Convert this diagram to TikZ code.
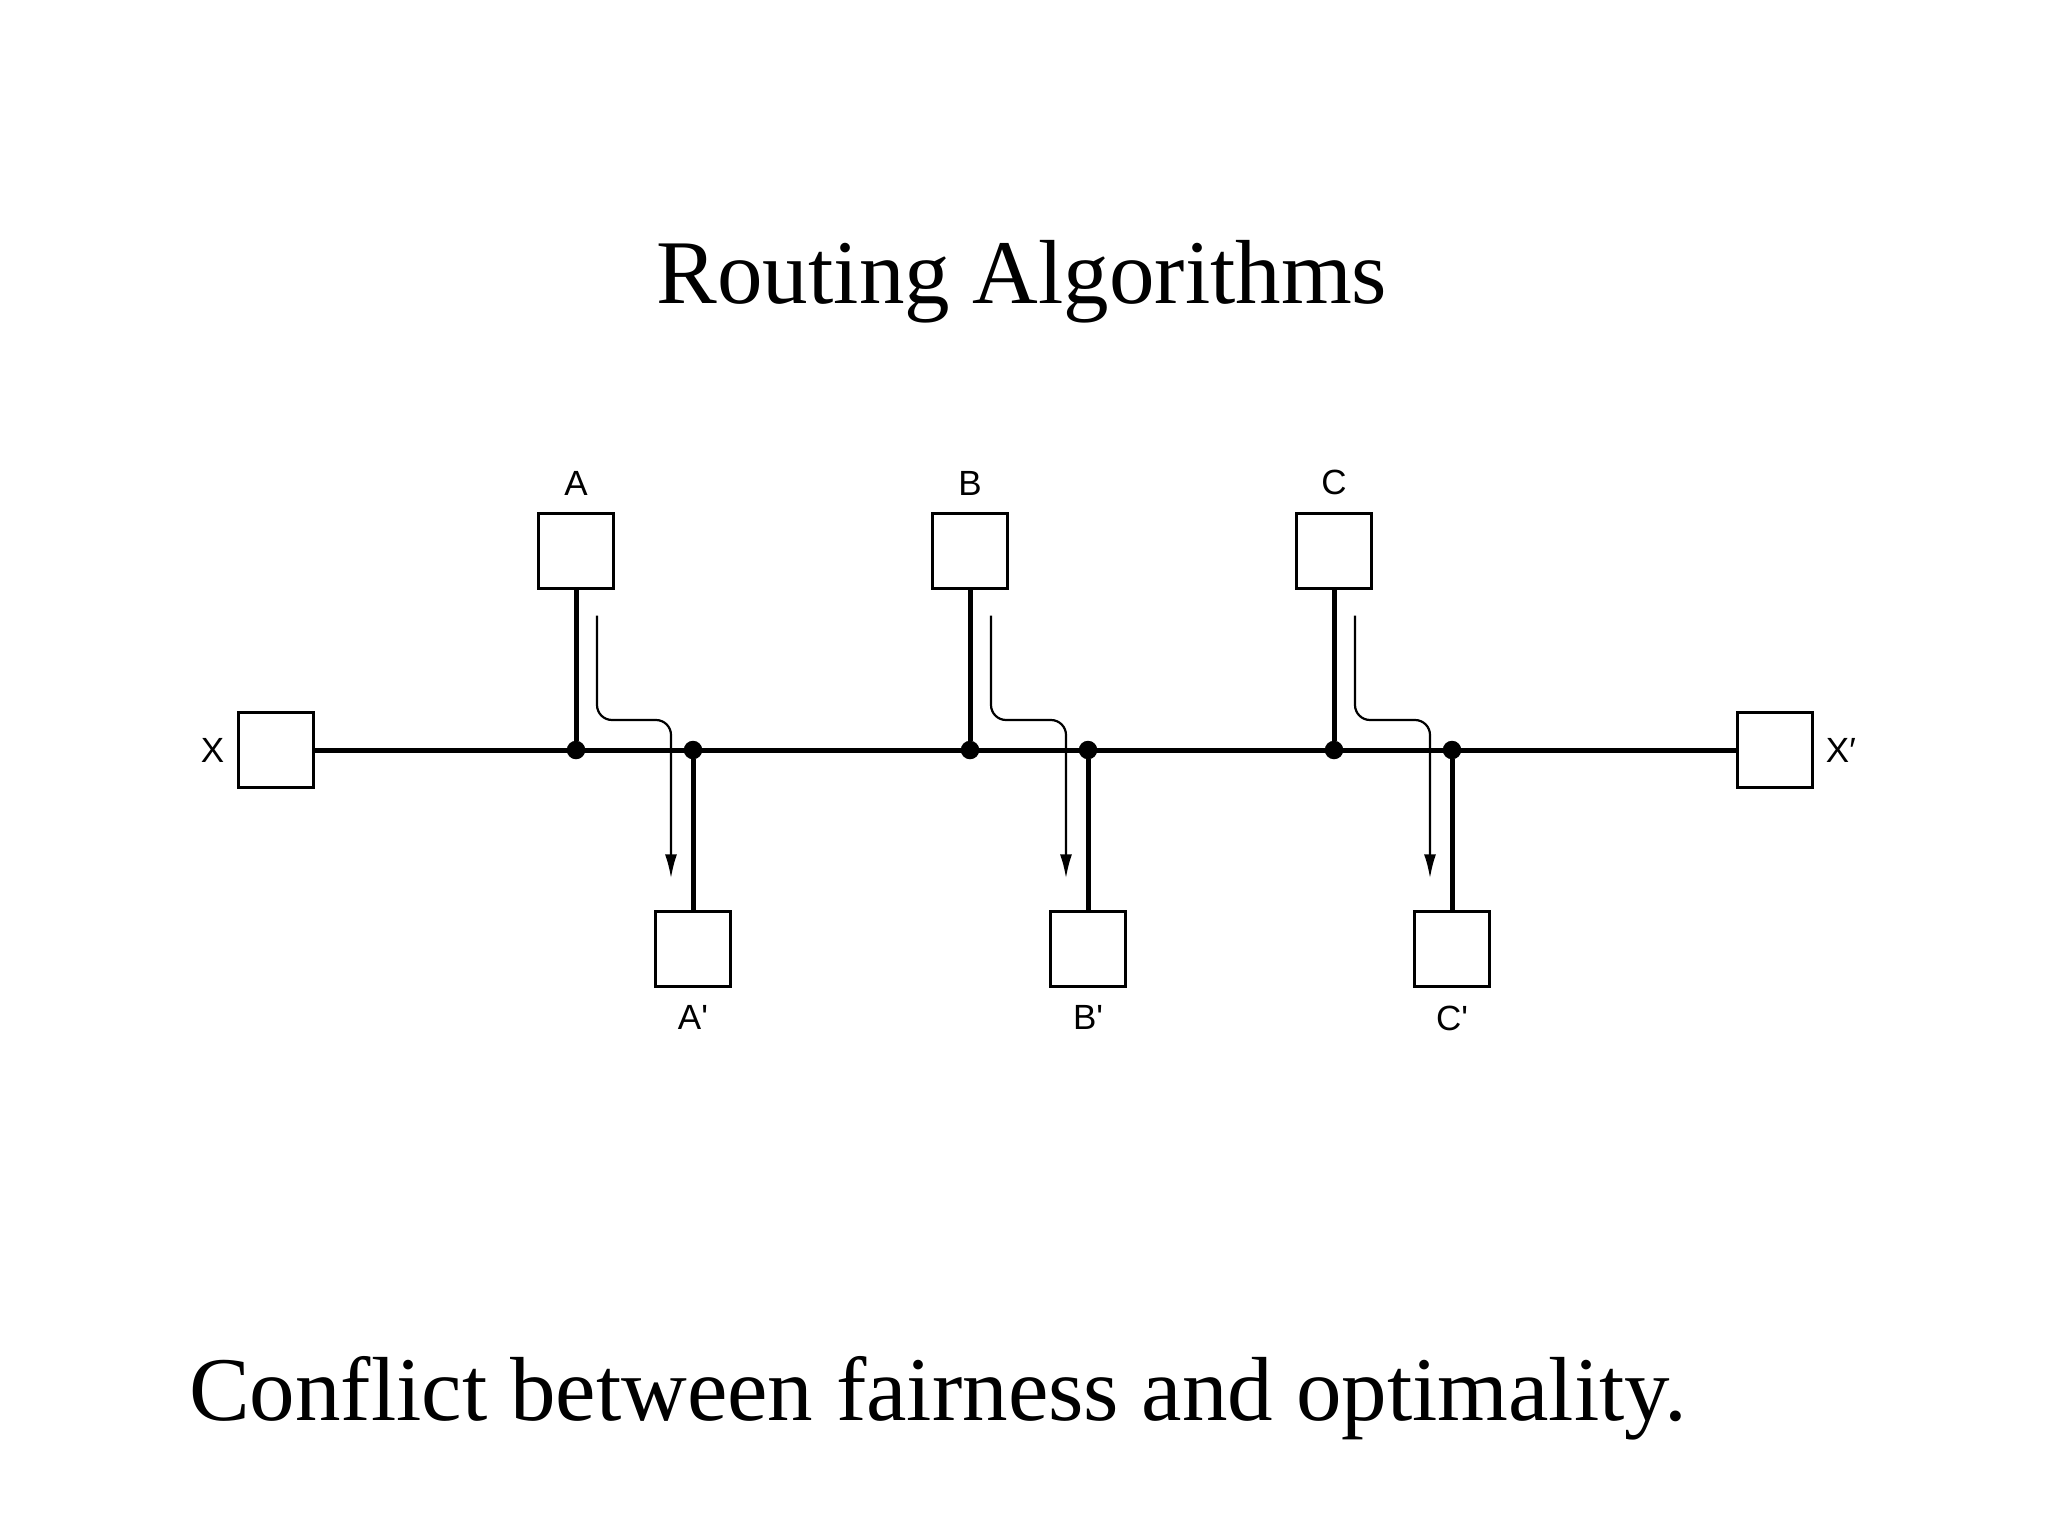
\documentclass[tikz,border=0pt]{standalone}
\usepackage{fontspec}
\setmainfont{Liberation Serif}
\setsansfont{Liberation Sans}
\usetikzlibrary{positioning,arrows.meta}

\tikzset{
  host/.style={draw, line width=2.4pt, minimum size=75pt, inner sep=0pt},
  tap/.style={circle, fill, inner sep=0pt, minimum size=18.5pt},
  wire/.style={line width=5pt},
  flow/.style={line width=2.2pt, rounded corners=15pt, -{Latex[length=24pt,width=12pt]}},
  tag/.style={font=\sffamily\fontsize{35}{40}\selectfont, inner sep=0pt},
  heading/.style={font=\fontsize{91}{110}\selectfont, inner sep=0pt},
}

\begin{document}
\begin{tikzpicture}[x=1pt, y=-1pt]
  \path[use as bounding box] (0,0) rectangle (2048,1536);

  %% title and caption
  \node[heading, anchor=base] (title) at (1022,303) {Routing Algorithms};
  \node[heading, anchor=base west] (caption) at (189,1420) {Conflict between fairness and optimality.};

  %% end hosts on the bus
  \node[host] (X) at (276,750) {};
  \node[host] (Xd) at (1775,750) {};
  \node[tag, left=13pt of X] {X};
  \node[tag, right=12pt of Xd] {X′};
  \draw[wire] (X) -- (Xd);

  %% senders, receivers, taps and flows
  \foreach \n/\x/\xd in {A/576/693, B/970/1088, C/1334/1452} {
    \node[host] (\n) at (\x,551) {};
    \node[tag, above=17pt of \n] {\n};
    \node[host] (d\n) at (\xd,949) {};
    \node[tag, below=18pt of d\n] {\n\textquotesingle};
    \node[tap] (j\n) at (\x,750) {};
    \node[tap] (jd\n) at (\xd,750) {};
    \draw[wire] (\n) -- (j\n);
    \draw[wire] (jd\n) -- (d\n);
    \coordinate (s\n) at ([xshift=21pt,yshift=-26pt]\n.south);
    \coordinate (e\n) at ([xshift=-22pt,yshift=32pt]d\n.north);
    \draw[flow] (s\n) |- ([yshift=30pt]e\n |- j\n) -- (e\n);
  }
\end{tikzpicture}
\end{document}
